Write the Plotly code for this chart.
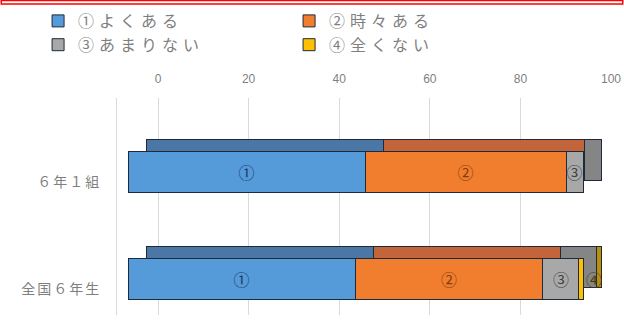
import plotly.graph_objects as go

# ---- data ----
categories = ["全国６年生", "６年１組"]
series_names = ["①よくある", "②時々ある", "③あまりない", "④全くない"]
series_labels = ["①", "②", "③", "④"]
yoku_aru = [49.9, 52.1]
tokidoki = [41.3, 44.2]
amari = [7.9, 3.7]
mattaku = [0.9, 0.0]
values = [yoku_aru, tokidoki, amari, mattaku]
tick_vals = [0, 20, 40, 60, 80, 100]

front_colors = ["#559AD9", "#F07E2E", "#A8A8A8", "#FFC000"]
back_colors = ["#4A77A6", "#C2653A", "#858585", "#B8900C"]
text_colors = ["#1F3864", "#843C0C", "#404040", "#4A3A00"]
outline = "#1E2A3A"

W, H = 624, 331
FONT = "Noto Sans CJK JP"


def spaced(s, px):
    return '<span style="letter-spacing:%spx">%s</span>' % (px, s)


# pixel anchors for axis layout
plot_l, plot_r = 117, 611
plot_t, plot_b = 98, 315


def rng(px0_at, px100_at):
    s = (px100_at - px0_at) / 100.0
    return [(plot_l - px0_at) / s, (plot_r - px0_at) / s]


row_px = 107.0
y_lo = -(plot_b - 279) / row_px
y_hi = 1 + (172 - plot_t) / row_px
dy = 12 / row_px

fig = go.Figure()

# empty trace to anchor the main (tick/grid) subplot
fig.add_trace(go.Scatter(x=[], y=[], xaxis="x", yaxis="y",
                         showlegend=False, hoverinfo="skip"))

# back (depth) faces
for i in range(4):
    fig.add_trace(go.Bar(
        y=categories, x=values[i], orientation="h",
        marker=dict(color=back_colors[i], line=dict(color=outline, width=1)),
        width=0.39, showlegend=False, hoverinfo="skip",
        xaxis="x2", yaxis="y2",
    ))

# front faces
for i in range(4):
    txt = [series_labels[i] if v > 0 else "" for v in values[i]]
    fig.add_trace(go.Bar(
        y=categories, x=values[i], orientation="h",
        name=spaced(series_names[i], 5),
        marker=dict(color=front_colors[i], line=dict(color=outline, width=1)),
        width=0.39,
        text=txt,
        textposition="outside" if i == 3 else "inside",
        insidetextanchor="middle",
        constraintext="none",
        cliponaxis=False,
        textfont=dict(family=FONT, size=16, color=text_colors[i]),
        xaxis="x3", yaxis="y",
    ))

fig.update_layout(
    width=W, height=H,
    margin=dict(l=0, r=0, t=0, b=0, autoexpand=False),
    paper_bgcolor="white", plot_bgcolor="white",
    barmode="stack",
    font=dict(family=FONT, color="#7F7F7F"),
    xaxis=dict(
        type="linear", automargin=False,
        domain=[plot_l / W, plot_r / W],
        range=rng(158, 611),
        side="top", anchor="y",
        tickvals=tick_vals, ticktext=[str(v) for v in tick_vals],
        showgrid=True, gridcolor="#D9D9D9", gridwidth=1,
        zeroline=False, showline=False, ticks="",
        ticklabelstandoff=12,
        tickfont=dict(family="Liberation Sans", size=12, color="#7F7F7F"),
    ),
    xaxis2=dict(type="linear", automargin=False, overlaying="x",
                range=rng(146, 601), visible=False),
    xaxis3=dict(type="linear", automargin=False, overlaying="x",
                range=rng(128, 583), visible=False),
    yaxis=dict(
        automargin=False,
        domain=[(H - plot_b) / H, (H - plot_t) / H],
        range=[y_lo, y_hi], type="category",
        categoryorder="array", categoryarray=categories,
        tickvals=categories, ticktext=[spaced(c, 2) for c in categories],
        showgrid=False, zeroline=False,
        showline=True, linecolor="#D9D9D9", linewidth=1,
        ticks="", ticklabelstandoff=12, ticklabelshift=10,
        tickfont=dict(family=FONT, size=14, color="#7F7F7F"),
    ),
    yaxis2=dict(automargin=False, overlaying="y", range=[y_lo - dy, y_hi - dy],
                type="category", categoryorder="array", categoryarray=categories,
                visible=False),
    legend=dict(
        orientation="h", x=0.061, y=1 - 4 / H, xanchor="left", yanchor="top",
        traceorder="normal", entrywidth=206,
        font=dict(family=FONT, size=16, color="#7F7F7F"),
        bgcolor="rgba(0,0,0,0)",
    ),
    shapes=[dict(type="rect", xref="paper", yref="paper",
                 x0=0.002, x1=0.998, y0=1 - 4 / H, y1=1 - 0.5 / H,
                 line=dict(color="#FF0000", width=1.5))],
)

fig.write_html("out.html")
